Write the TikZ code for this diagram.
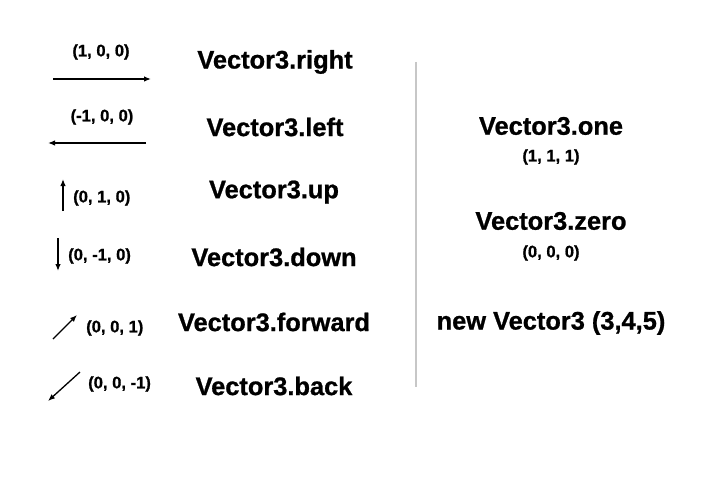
\documentclass[tikz,border=0pt]{standalone}
\usepackage{fontspec}
\setmainfont[BoldFeatures={FakeBold=0.9}]{Liberation Sans}
\usetikzlibrary{arrows.meta}
\begin{document}
\begin{tikzpicture}[x=1pt,y=-1pt,
  big/.style={font=\bfseries\fontsize{25.4}{30}\selectfont, inner sep=0pt},
  small/.style={font=\bfseries\fontsize{16.6}{20}\selectfont, inner sep=0pt},
  vec/.style={line width=1.3pt, -{Latex[length=7pt,width=5.5pt]}},
  divider/.style={line width=1.2pt, draw=black!22}]
\useasboundingbox (0,0) rectangle (703,476);

% left column: unit axis vectors
\node[small] (lr) at (101,52) {(1, 0, 0)};
\coordinate (r0) at (53,79);  \coordinate (r1) at (151,79);
\draw[vec] (r0) -- (r1);
\node[big] (nr) at (275,62) {Vector3.right};

\node[small] (ll) at (102,117) {(-1, 0, 0)};
\coordinate (l0) at (146,143); \coordinate (l1) at (48,143);
\draw[vec] (l0) -- (l1);
\node[big] (nl) at (275,127) {Vector3.left};

\coordinate (u0) at (63,211); \coordinate (u1) at (63,179);
\draw[vec] (u0) -- (u1);
\node[small, anchor=west] (lu) at (73,198) {(0, 1, 0)};
\node[big] (nu) at (274,192) {Vector3.up};

\coordinate (d0) at (58,238); \coordinate (d1) at (58,271);
\draw[vec] (d0) -- (d1);
\node[small, anchor=west] (ld) at (68,256) {(0, -1, 0)};
\node[big] (nd) at (274,257) {Vector3.down};

\coordinate (f0) at (53,339); \coordinate (f1) at (77,315);
\draw[vec] (f0) -- (f1);
\node[small, anchor=west] (lf) at (86,328) {(0, 0, 1)};
\node[big] (nf) at (274,322) {Vector3.forward};

\coordinate (b0) at (80,372); \coordinate (b1) at (48,401);
\draw[vec] (b0) -- (b1);
\node[small, anchor=west] (lb) at (88,384) {(0, 0, -1)};
\node[big] (nb) at (274,386) {Vector3.back};

% separator
\coordinate (s0) at (416,62); \coordinate (s1) at (416,387);
\draw[divider] (s0) -- (s1);

% right column
\node[big] (one) at (551,126) {Vector3.one};
\node[small] (lone) at (551,157) {(1, 1, 1)};
\node[big] (zero) at (551,221) {Vector3.zero};
\node[small] (lzero) at (551,253) {(0, 0, 0)};
\node[big] (nv) at (551,323) {new Vector3 (3,4,5)};
\end{tikzpicture}
\end{document}
